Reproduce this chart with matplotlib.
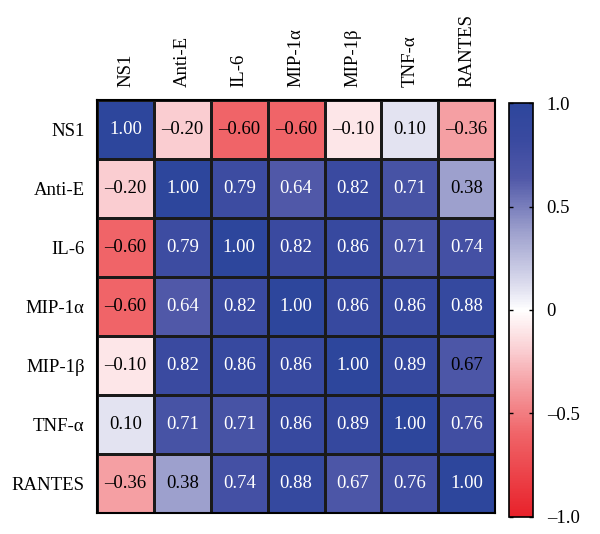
import numpy as np
import matplotlib.pyplot as plt
from matplotlib.colors import LinearSegmentedColormap

labels = ['NS1', 'Anti-E', 'IL-6', 'MIP-1α', 'MIP-1β', 'TNF-α', 'RANTES']
corr = np.array([
    [1.00, -0.20, -0.60, -0.60, -0.10, 0.10, -0.36],
    [-0.20, 1.00, 0.79, 0.64, 0.82, 0.71, 0.38],
    [-0.60, 0.79, 1.00, 0.82, 0.86, 0.71, 0.74],
    [-0.60, 0.64, 0.82, 1.00, 0.86, 0.86, 0.88],
    [-0.10, 0.82, 0.86, 0.86, 1.00, 0.89, 0.67],
    [0.10, 0.71, 0.71, 0.86, 0.89, 1.00, 0.76],
    [-0.36, 0.38, 0.74, 0.88, 0.67, 0.76, 1.00],
])
# cells drawn with dark text although the value is high
dark_text = [(4, 6)]

cmap = LinearSegmentedColormap.from_list('rwb', [
    (0.00, '#e8212a'),
    (0.20, '#f06468'),
    (0.32, '#f5a0a4'),
    (0.40, '#facdd1'),
    (0.50, '#ffffff'),
    (0.55, '#e2e2f1'),
    (0.69, '#9da0cd'),
    (0.82, '#5058a8'),
    (0.91, '#3a4aa0'),
    (1.00, '#2d469c'),
])

plt.rcParams['font.family'] = ['Liberation Serif', 'DejaVu Serif']

fig = plt.figure(figsize=(6, 5.34), dpi=100)
ax = fig.add_axes([0.162, 0.039, 0.663, 0.774])
n = len(labels)
mesh = ax.pcolormesh(corr, cmap=cmap, vmin=-1, vmax=1,
                     edgecolors='#1a1a1a', linewidth=1.0)
ax.set_xlim(0, n)
ax.set_ylim(n, 0)
for i in range(n):
    for j in range(n):
        v = corr[i, j]
        col = 'white' if v > 0.6 and (i, j) not in dark_text else 'black'
        txt = f'{v:.2f}'.replace('-', '–')
        ax.text(j + 0.5, i + 0.5, txt, ha='center', va='center',
                color=col, fontsize=13.5)

ax.set_xticks(np.arange(n) + 0.5)
ax.set_yticks(np.arange(n) + 0.5)
ax.set_xticklabels(labels, rotation=90, fontsize=13.5)
ax.set_yticklabels(labels, fontsize=13.5)
ax.xaxis.tick_top()
ax.tick_params(length=0, pad=9)
for s in ax.spines.values():
    s.set_linewidth(1.5)

cax = fig.add_axes([0.848, 0.032, 0.040, 0.775])
cbar = fig.colorbar(mesh, cax=cax)
cbar.set_ticks([1.0, 0.5, 0, -0.5, -1.0])
cbar.set_ticklabels(['1.0', '0.5', '0', '–0.5', '–1.0'])
cax.tick_params(direction='in', length=3, width=1, labelsize=13.5, pad=10,
                left=True, right=True)
cbar.outline.set_linewidth(1.2)

fig.savefig('out.png', dpi=100)
